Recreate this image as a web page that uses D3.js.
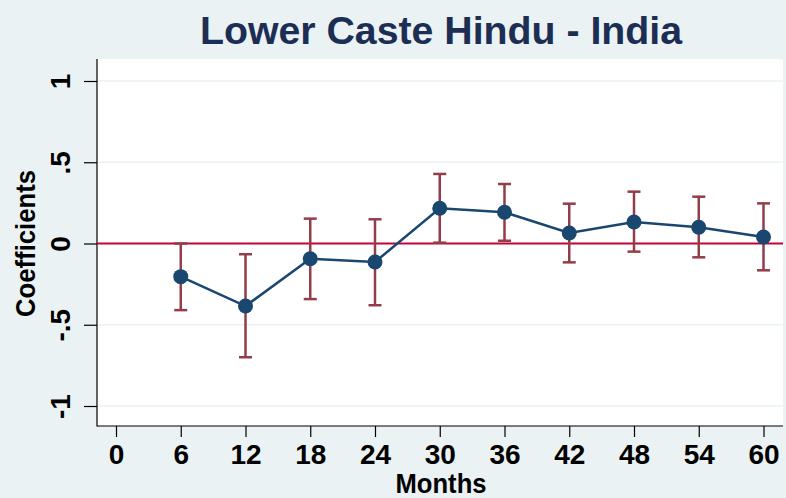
<html>
<head>
<script src="https://d3js.org/d3.v7.min.js"></script>
<style>
body { margin: 0; background: #eaf2f3; }
text { font-family: 'Liberation Sans', Arial, sans-serif; font-weight: bold; }
</style>
</head>
<body>
<div id="plot"></div>
<script>

var width = 786;
var height = 498;

// plot region
var plotLeft = 97, plotRight = 783, plotTop = 59, plotBottom = 426;

// data
var months = [6, 12, 18, 24, 30, 36, 42, 48, 54, 60];
var coef = [-0.204, -0.385, -0.094, -0.114, 0.217, 0.192, 0.065, 0.132, 0.100, 0.040];
var lower = [-0.410, -0.700, -0.342, -0.380, 0.005, 0.017, -0.116, -0.050, -0.085, -0.165];
var upper = [0.000, -0.066, 0.153, 0.149, 0.428, 0.366, 0.245, 0.319, 0.288, 0.247];

var xTicks = [0, 6, 12, 18, 24, 30, 36, 42, 48, 54, 60];
var yTicks = [-1, -0.5, 0, 0.5, 1];
var yTickLabels = ["-1", "-.5", "0", ".5", "1"];

var svg = d3.select("#plot").append("svg")
.attr("width", width).attr("height", height);

svg.append("rect").attr("width", width).attr("height", height).style("fill", "#eaf2f3");
svg.append("rect").attr("x", plotLeft).attr("y", plotTop)
.attr("width", plotRight - plotLeft).attr("height", plotBottom - plotTop)
.style("fill", "#ffffff");

var xScale = d3.scaleLinear().domain([0, 60]).range([116, 763.5]);
var yScale = d3.scaleLinear().domain([-1, 1]).range([406, 81]);

// grid lines
svg.selectAll("line.grid").data(yTicks.filter(function (d) { return d !== 0; }))
.enter().append("line").attr("class", "grid")
.attr("x1", plotLeft).attr("x2", plotRight)
.attr("y1", function (d) { return yScale(d); })
.attr("y2", function (d) { return yScale(d); })
.style("stroke", "#eaf2f3").style("stroke-width", 1.5);

// y axis
var yAxis = d3.axisLeft(yScale).tickValues(yTicks)
.tickSize(13)
.tickFormat(function (d, i) { return yTickLabels[i]; });
var gy = svg.append("g").attr("transform", "translate(" + plotLeft + ",0)").call(yAxis);
gy.select(".domain").remove();
gy.selectAll(".tick line").style("stroke", "#000").style("stroke-width", 1.2);
gy.selectAll(".tick text")
.attr("x", null).attr("dy", null)
.attr("transform", "translate(-27,0) rotate(-90)")
.attr("text-anchor", "middle")
.style("font-size", "28px").style("fill", "#000");

// x axis
var xAxis = d3.axisBottom(xScale).tickValues(xTicks).tickSize(11);
var gx = svg.append("g").attr("transform", "translate(0," + plotBottom + ")").call(xAxis);
gx.select(".domain").remove();
gx.selectAll(".tick line").style("stroke", "#000").style("stroke-width", 1.2);
gx.selectAll(".tick text")
.attr("y", 38).attr("dy", null)
.style("font-size", "28px").style("fill", "#000");

// axis lines
svg.append("line").attr("x1", plotLeft).attr("x2", plotLeft).attr("y1", plotTop).attr("y2", plotBottom + 0.5)
.style("stroke", "#000").style("stroke-width", 1.2);
svg.append("line").attr("x1", plotLeft).attr("x2", plotRight).attr("y1", plotBottom).attr("y2", plotBottom)
.style("stroke", "#000").style("stroke-width", 1.2);

// zero line
svg.append("line").attr("x1", plotLeft).attr("x2", plotRight)
.attr("y1", yScale(0)).attr("y2", yScale(0))
.style("stroke", "#c10534").style("stroke-width", 2);

var points = months.map(function (m, i) {
  return { month: m, coef: coef[i], lower: lower[i], upper: upper[i] };
});

// error bars
var bars = svg.selectAll("g.bar").data(points).enter().append("g").attr("class", "bar")
.style("stroke", "#933d49").style("stroke-width", 2.5);
bars.append("line")
.attr("x1", function (d) { return xScale(d.month); })
.attr("x2", function (d) { return xScale(d.month); })
.attr("y1", function (d) { return yScale(d.lower); })
.attr("y2", function (d) { return yScale(d.upper); });
bars.append("line")
.attr("x1", function (d) { return xScale(d.month) - 6.5; })
.attr("x2", function (d) { return xScale(d.month) + 6.5; })
.attr("y1", function (d) { return yScale(d.lower); })
.attr("y2", function (d) { return yScale(d.lower); });
bars.append("line")
.attr("x1", function (d) { return xScale(d.month) - 6.5; })
.attr("x2", function (d) { return xScale(d.month) + 6.5; })
.attr("y1", function (d) { return yScale(d.upper); })
.attr("y2", function (d) { return yScale(d.upper); });

// connecting line
var line = d3.line()
.x(function (d) { return xScale(d.month); })
.y(function (d) { return yScale(d.coef); });
svg.append("path").datum(points).attr("d", line)
.style("fill", "none").style("stroke", "#1a476f").style("stroke-width", 2.5);

svg.selectAll("circle").data(points).enter().append("circle")
.attr("cx", function (d) { return xScale(d.month); })
.attr("cy", function (d) { return yScale(d.coef); })
.attr("r", 7.5)
.style("fill", "#1a476f");

// titles
svg.append("text").attr("x", 200).attr("y", 43.5)
.attr("textLength", 482).attr("lengthAdjust", "spacingAndGlyphs")
.style("font-size", "38px").style("fill", "#1c2e54")
.text("Lower Caste Hindu - India");

svg.append("text").attr("x", 441).attr("y", 493)
.attr("text-anchor", "middle")
.attr("textLength", 91).attr("lengthAdjust", "spacingAndGlyphs")
.style("font-size", "28px").style("fill", "#000")
.text("Months");

svg.append("text").attr("transform", "translate(35," + yScale(0) + ") rotate(-90)")
.attr("text-anchor", "middle")
.attr("textLength", 147).attr("lengthAdjust", "spacingAndGlyphs")
.style("font-size", "28px").style("fill", "#000")
.text("Coefficients");

</script>
</body>
</html>
